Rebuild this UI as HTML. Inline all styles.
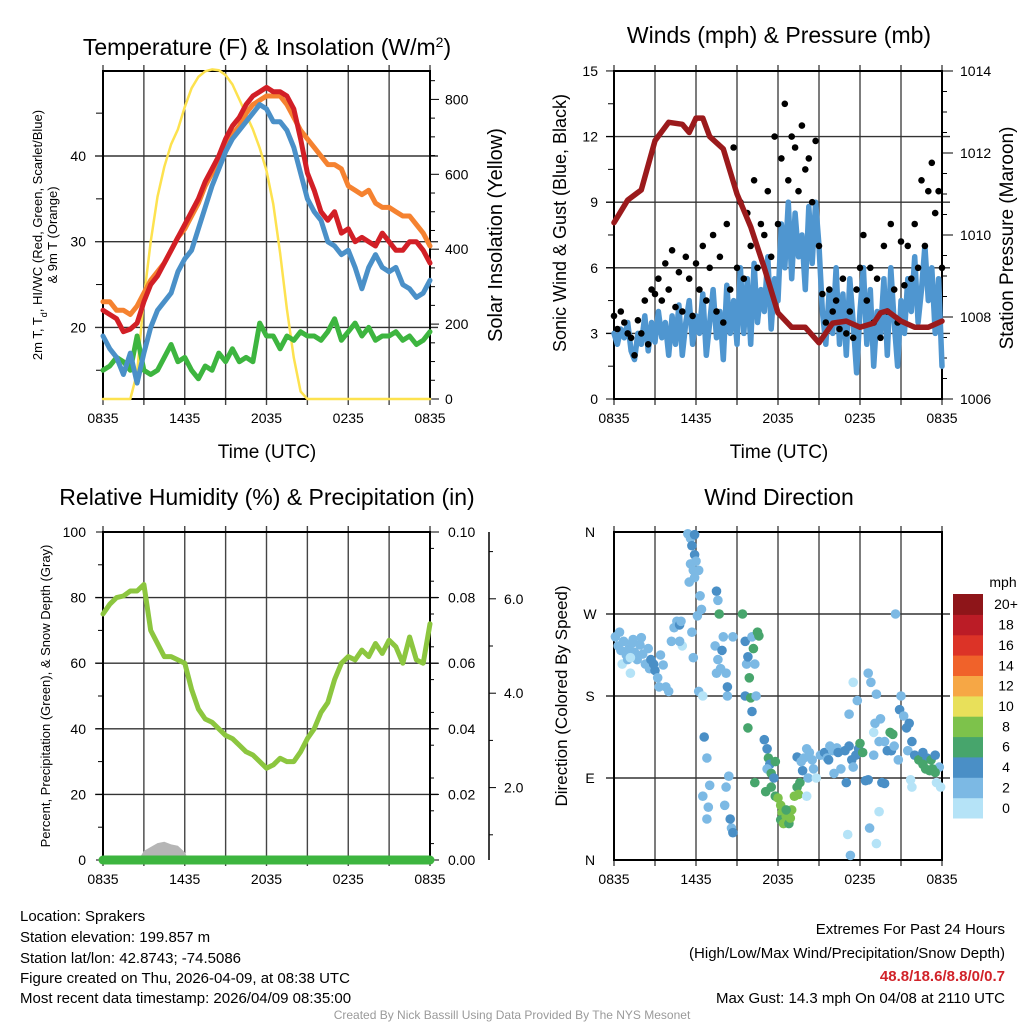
<!DOCTYPE html>
<html><head><meta charset="utf-8">
<style>
html,body{margin:0;padding:0;background:#fff;}
svg{display:block;font-family:"Liberation Sans",Arial,sans-serif;}
</style></head>
<body>
<svg id="chart" width="1024" height="1024" viewBox="0 0 1024 1024" xmlns="http://www.w3.org/2000/svg">
<rect x="0" y="0" width="1024" height="1024" fill="#fff"/>
<text x="267" y="55" font-size="23" text-anchor="middle">Temperature (F) &amp; Insolation (W/m<tspan baseline-shift="super" font-size="14">2</tspan>)</text>
<text x="779" y="43" font-size="23" text-anchor="middle">Winds (mph) &amp; Pressure (mb)</text>
<text x="267" y="505" font-size="23" text-anchor="middle">Relative Humidity (%) &amp; Precipitation (in)</text>
<text x="779" y="505" font-size="23" text-anchor="middle">Wind Direction</text>

<text transform="translate(42,235) rotate(-90)" font-size="13" text-anchor="middle">2m T, T<tspan baseline-shift="sub" font-size="9">d</tspan>, HI/WC (Red, Green, Scarlet/Blue)</text>
<text transform="translate(57,235) rotate(-90)" font-size="13" text-anchor="middle">&amp; 9m T (Orange)</text>
<text transform="translate(502,235) rotate(-90)" font-size="20" text-anchor="middle">Solar Insolation (Yellow)</text>
<text x="267" y="458" font-size="19" text-anchor="middle">Time (UTC)</text>
<text transform="translate(566,223) rotate(-90)" font-size="18" text-anchor="middle">Sonic Wind &amp; Gust (Blue, Black)</text>
<text transform="translate(1013,238) rotate(-90)" font-size="19" text-anchor="middle">Station Pressure (Maroon)</text>
<text x="779" y="458" font-size="19" text-anchor="middle">Time (UTC)</text>
<text transform="translate(50,696) rotate(-90)" font-size="13" text-anchor="middle">Percent, Precipitation (Green), &amp; Snow Depth (Gray)</text>
<text transform="translate(567,696) rotate(-90)" font-size="17" text-anchor="middle">Direction (Colored By Speed)</text>

<text x="1003" y="587" font-size="14" text-anchor="middle">mph</text>

<g font-size="15">
<text x="20" y="921">Location: Sprakers</text>
<text x="20" y="942">Station elevation: 199.857 m</text>
<text x="20" y="963">Station lat/lon: 42.8743; -74.5086</text>
<text x="20" y="983">Figure created on Thu, 2026-04-09, at 08:38 UTC</text>
<text x="20" y="1003">Most recent data timestamp: 2026/04/09 08:35:00</text>
</g>
<g font-size="15" text-anchor="end">
<text x="1005" y="934">Extremes For Past 24 Hours</text>
<text x="1005" y="958">(High/Low/Max Wind/Precipitation/Snow Depth)</text>
<text x="1005" y="981" fill="#d1232a" font-weight="bold">48.8/18.6/8.8/0/0.7</text>
<text x="1005" y="1003">Max Gust: 14.3 mph On 04/08 at 2110 UTC</text>
</g>
<text x="512" y="1019" font-size="12" fill="#9a9a9a" text-anchor="middle">Created By Nick Bassill Using Data Provided By The NYS Mesonet</text>
</svg>
<script>
// ---------- data ----------
const timeLabels = ["0835","1435","2035","0235","0835"];
const tempHours = [0,0.5,1,1.5,2,2.5,3,3.5,4,4.5,5,5.5,6,6.5,7,7.5,8,8.5,9,9.5,10,10.5,11,11.5,12,12.5,13,13.5,14,14.5,15,15.5,16,16.5,17,17.5,18,18.5,19,19.5,20,20.5,21,21.5,22,22.5,23,23.5,24];
const tempRed = [22,21.5,21,19.5,19.8,20.5,23,25,26,27.5,29,30.5,32,33.5,35,37,38.5,40,42,43.5,44.5,46,47,47.5,48,47.5,47.5,47,45.5,42,38,36,33.5,32.5,33.5,31,31.5,30,30.5,30,29.5,31,30,29,29,30,30,29,27.5];
const tempBlue = [19,17.5,16.5,14.5,17,13.5,17,20,22,23,24,26.5,28,29,31.5,34,36.5,38.5,40.5,42,43,44,45,46,45.5,44,44,43,41,38,35,33.5,32.5,30,29.5,28.5,29,27,24.5,27,28.5,27,26.5,27,25,24.5,23.5,24,25.5];
const tempOrange = [23,23,22,22,21.5,22.5,24,25.5,26.5,27.5,29,30.5,31.5,33,34.5,36.5,38,39.5,41,42.5,43.5,45,46,46.5,47,47,47,46,44.5,43,42,41,40,39,39,38.5,36.5,36,35.5,36,34.5,34,34,33.5,33,33,32,31,29.5];
const tempGreen = [15,15.5,16.5,16,15,19,15,14.5,15,16.5,18,16,16.5,15,14,15.5,15,17,16,17.5,16,16.5,16,20.5,19,19,17.5,19,18.5,19.5,19,19,18.5,19.5,21,18.5,19.5,20.5,19,20,18.5,19,19,19.5,18.5,19,18,18.5,19.5];
const solar = [0,0,0,0,0,70,270,420,540,620,680,720,780,830,860,875,880,878,865,840,800,760,720,670,610,520,390,240,110,20,0,0,0,0,0,0,0,0,0,0,0,0,0,0,0,0,0,0,0];
const tempTicks = [20,30,40];
const solarTicks = [0,200,400,600,800];

const windHours = [];
for (let i = 0; i <= 96; i++) windHours.push(i/4);
const windSpeed = [3,2.5,3.2,2.8,3.5,2.2,1.8,3,2.5,3.8,2.2,3.5,2.6,
 4,2.8,3.5,2,3.8,2.5,4.3,2,3.5,4.5,2.5,3.8,
 3,4.8,2,3.5,5,2.8,4,1.8,5.2,3,4.5,2.5,
 6,3,5.5,2.5,6.2,3.5,5,4,6.5,3.2,5.5,4.5,
 8,6,9,5.5,8.5,6.5,7.5,5,8.8,6.2,9,7,
 4,2.5,5,3,6,2.5,4.8,2,5.5,3.5,1.2,4,
 6,2.5,5,1.5,4,3,5.5,2,6,3.5,1.5,4.5,
 3,5.5,4,6.5,3.5,5,7,4.5,6,3,5.5,1.5];
const windGust = [3.8,3.2,4,3.5,3,2.8,2,3.6,3,4.5,2.5,5,4.8,
 5.5,4.5,6.2,5,6.8,4.2,5.8,4,6.5,5.5,3.8,6.2,
 5,7,4.5,6,7.5,4,6.5,3.5,8,5,11.5,6,
 9,5.5,8.5,7,10,6,8,7.5,9.5,6.5,12,8,
 11,13.5,10,12,11.5,9.5,12.5,10.5,11,9,11.8,7,
 4.8,3.5,5,4,4.5,3.2,5.5,3,4,2.8,5,6,
 7.5,4.5,6,3.5,5.5,2.8,7,4,8,5,3.5,7.2,
 5.2,7,5.5,8,6,10,7,9.5,10.8,8.5,9.5,6];
const pressHours = [0,1,2,3,4,5,5.5,6,6.5,7,8,9,10,11,12,13,14,15,16,17,18,19,19.5,20,21,22,23,24];
const pressure = [1010.3,1010.85,1011.1,1012.3,1012.75,1012.7,1012.5,1012.85,1012.85,1012.4,1012.1,1011.0,1010.2,1009.2,1008.1,1007.75,1007.75,1007.37,1007.85,1007.9,1007.75,1007.85,1008.1,1008.15,1007.9,1007.75,1007.75,1007.9];
const windTicks = [0,3,6,9,12,15];
const pressTicks = [1006,1008,1010,1012,1014];

const rhHours = tempHours;
const rh = [75,78,80,80.5,82,82,84,70,66,62,62,61,60,52,46,43,42,40,38,37,35,33,32,30,28,29,31,30,30,33,37,40,45,48,55,60,62,61,64,62,66,63,67,65,60,68,61,60,72];
const snowHours = [0,2.6,3,3.5,4,4.5,5,5.5,6,6.3,24];
const snowDepth = [0,0,0.35,0.5,0.65,0.7,0.6,0.55,0.3,0,0];
const rhTicks = [0,20,40,60,80,100];
const precipTicks = ["0.00","0.02","0.04","0.06","0.08","0.10"];
const snowTicks = ["2.0","4.0","6.0"];

const dirLabels = ["N","E","S","W","N"];
const dirPts = [[0.1,245,3],[0.3,235,3],[0.5,230,3],[0.7,240,3],[0.9,225,3],[1.1,232,3],[1.3,238,3],[1.5,228,3],[1.7,220,3],[1.9,236,3],[2.1,226,3],[2.3,215,3],[0.6,215,1],[1.0,220,3],[1.4,242,3],[2.0,244,3],[2.5,232,3],[2.6,210,3],[0.4,250,3],[1.2,222,1.5],[1.2,205,1.5],
[2.7,220,4.5],[2.9,215,4.5],[3.0,208,4.5],[3.2,200,3],[3.4,225,3],[3.6,214,3],[3.8,190,3],[4.0,185,3],[3.3,190,3],[4.2,240,3],[4.4,255,3],[4.6,262,3],[4.8,258,4.5],[4.9,262,3],[5.0,235,1.5],[4.8,240,3],
[5.4,358,3],[5.6,353,3],[5.9,357,4.5],[5.7,345,4.5],[5.9,335,4.5],[5.6,325,3],[5.8,318,3],[6.0,328,3],[5.5,305,3],[5.9,310,3],[6.2,318,3],[5.7,250,3],[5.8,222,3],[6.3,290,3],[6.1,268,3],
[6.4,275,3],[6.2,185,3],[6.5,180,1.5],[6.6,135,4.5],[6.8,112,3],[6.5,70,3],[6.8,45,3],[7.0,82,3],[6.9,58,3],[7.5,295,4.5],[7.6,285,3],[7.7,270,6.5],[7.4,235,3],[7.6,220,3],[7.9,230,4.5],[7.8,210,3],[7.5,205,3],[8.0,245,3],[8.3,180,3],[8.3,190,4.5],[8.2,205,3],[8.7,245,3],[8.2,80,3],[8.4,92,3],[8.1,60,3],[8.6,35,3],[8.7,30,4.5],[8.5,45,4.5],
[9.4,270,6.5],[9.6,240,4.5],[9.7,215,3],[9.8,223,4.5],[9.9,200,6.5],[9.6,180,4.5],[10.1,245,3],[10.2,232,6.5],[10.3,215,3],[10.0,178,6.5],[10.1,163,4.5],[10.4,180,3],[10.5,250,6.5],[10.6,246,6.5],[9.8,145,6.5],[10.3,85,6.5],
[11.0,132,4.5],[11.2,122,4.5],[11.3,112,6.5],[11.4,105,4.5],[11.2,100,3],[11.5,95,6.5],[11.8,108,6.5],[11.7,90,4.5],[11.5,80,6.5],[11.1,75,6.5],[11.8,70,6.5],[12.0,68,9],[12.2,60,9],[12.3,52,9],[12.2,44,6.5],[12.4,40,9],[12.6,48,9],[12.8,40,6.5],[12.9,46,9],[13.0,55,9],[13.2,70,9],[13.4,80,6.5],[13.6,85,6.5],[13.8,98,4.5],[13.5,72,9],[12.6,55,6.5],
[13.4,113,4.5],[13.7,108,3],[13.9,112,3],[14.1,122,3],[14.3,118,3],[14.5,110,3],[14.6,100,3],[14.2,90,3],[14.8,90,1.5],[14.1,70,1.5],[15.1,115,3],[15.4,118,4.5],[15.6,112,3],[15.8,125,3],[16.0,120,3],[16.3,123,3],[16.4,118,4.5],[15.7,110,4.5],[16.1,95,3],[16.6,100,3],[16.9,120,4.5],[17.0,85,4.5],[17.2,125,4.5],[17.4,110,4.5],[17.7,115,4.5],[17.5,102,3],[17.9,122,4.5],[18.0,128,6.5],[18.2,118,6.5],[17.2,160,3],[17.5,195,1.5],[17.8,175,3],[17.1,28,1.5],[17.3,5,3],[18.4,87,4.5],[18.6,88,4.5],
[18.6,205,3],[18.8,195,3],[19.2,182,3],[19.1,150,3],[19.5,155,3],[19.8,130,3],[20.0,120,4.5],[19.4,130,3],[19.0,115,3],[20.3,120,4.5],[20.5,125,3],[20.8,110,3],[20.9,165,4.5],[21.0,180,3],[21.2,158,3],[21.4,145,4.5],[21.6,150,4.5],[21.8,130,4.5],[21.5,120,3],[22.0,115,4.5],[22.3,110,6.5],[22.6,118,4.5],[22.9,112,4.5],[23.2,110,6.5],[23.5,115,4.5],[23.8,102,3],[23.6,85,1.5],[23.9,80,1.5],[22.6,105,6.5],[22.8,100,6.5],[23.1,98,6.5],[23.3,100,6.5],[23.5,96,6.5],[20.6,270,3],[21.8,80,1.5],[21.7,88,1.5],[19.4,53,1.5],[19.2,18,1.5],[19.6,85,4.5],[19.8,84,4.5],[20.2,140,6.5],[20.4,138,6.5],[18.7,35,3],[19.0,140,1.5]];
const speedBinLabels = ["0","2","4","6","8","10","12","14","16","18","20+"];
const speedBinColors = ["#b5e3f7","#7cb9e4","#4a8fc6","#47a56c","#7dc24b","#e8e05a","#f6a745","#f0622a","#dc3327","#bb1c26","#8e1519"];

// ---------- scales ----------
const L = {x0:103, x1:430}, R = {x0:614, x1:942};
const TOP = {y0:71, y1:399}, BOT = {y0:532, y1:860};
const xL = h => L.x0 + h*(L.x1-L.x0)/24;
const xR = h => R.x0 + h*(R.x1-R.x0)/24;
const yTemp = v => 156 - (v-40)*8.57;
const ySolar = v => 399 - v*0.3745;
const yWind = v => 399 - v*21.87;
const yPress = v => 399 - (v-1006)*41;
const yRH = v => 860 - v*3.28;
const yPrecip = v => 860 - v*3280;
const ySnow = v => 882 - v*47.2;
const yDir = d => 860 - d*328/360;

const svg = document.getElementById('chart');
const NS = 'http://www.w3.org/2000/svg';
function mk(tag, attrs, parent){
  const e = document.createElementNS(NS, tag);
  for (const k in attrs) e.setAttribute(k, attrs[k]);
  (parent||svg).appendChild(e);
  return e;
}
function pathFrom(xs, ys, xf, yf){
  return xs.map((h,i)=>(i?'L':'M')+xf(h).toFixed(1)+','+yf(ys[i]).toFixed(1)).join('');
}

// ---------- frames & grids ----------
function panel(name, P, V, hGrid){
  const g = mk('g', {});
  
  
  for (let i=0;i<=8;i++){
    const x = P.x0 + i*(P.x1-P.x0)/8;
    const ln = mk('line', {x1:x, x2:x, y1:V.y0-6, y2:V.y1+6, stroke:'#444', 'stroke-width':1.4}, g);
    
    
  }
  hGrid.forEach(y=>{
    const ln = mk('line', {x1:P.x0-8, x2:P.x1+8, y1:y, y2:y, stroke:'#333', 'stroke-width':1.4}, g);
    
    
  });
  const fr = mk('rect', {x:P.x0, y:V.y0, width:P.x1-P.x0, height:V.y1-V.y0, fill:'none', stroke:'#000', 'stroke-width':2});
  
  
  timeLabels.forEach((t,i)=>{
    const tx = mk('text', {x:P.x0+i*(P.x1-P.x0)/4, y:V.y1+24, 'font-size':14, 'text-anchor':'middle'});
    tx.textContent = t;
    
    
  });
}
panel('temperature', L, TOP, tempTicks.map(yTemp));
panel('wind', R, TOP, windTicks.slice(1,5).map(yWind));
panel('humidity', L, BOT, rhTicks.slice(1,5).map(yRH));
panel('direction', R, BOT, [1,2,3].map(i=>yDir(i*90)));

function tickLabel(name, x, y, txt, anchor){
  const t = mk('text', {x:x, y:y+5, 'font-size':14, 'text-anchor':anchor});
  t.textContent = txt;
  
  
}
function minor(x1, x2, y){
  const m = mk('line', {x1:x1, x2:x2, y1:y, y2:y, stroke:'#000', 'stroke-width':1});
  
  
}
tempTicks.forEach(v=>tickLabel('temp-y-tick-label', 86, yTemp(v), String(v), 'end'));
[15,25,35,45].forEach(v=>minor(96,103,yTemp(v)));
solarTicks.forEach(v=>{ tickLabel('solar-y-tick-label', 445, ySolar(v), String(v), 'start'); minor(430,439,ySolar(v)); });
for (let v=50; v<=850; v+=50) if (v%200) minor(430,435,ySolar(v));
windTicks.forEach(v=>{ tickLabel('wind-y-tick-label', 598, yWind(v), String(v), 'end'); minor(606,614,yWind(v)); });
for (let v=1.5; v<15; v+=3) minor(608,614,yWind(v));
pressTicks.forEach(v=>{ tickLabel('pressure-y-tick-label', 960, yPress(v), String(v), 'start'); minor(942,953,yPress(v)); });
for (let v=1006.5; v<1014; v+=0.5) if (v%2) minor(942,947,yPress(v));
rhTicks.forEach(v=>{ tickLabel('rh-y-tick-label', 86, yRH(v), String(v), 'end'); minor(96,103,yRH(v)); });
for (let v=10; v<100; v+=20) minor(98,103,yRH(v));
precipTicks.forEach(v=>{ tickLabel('precip-y-tick-label', 448, yPrecip(+v), v, 'start'); minor(430,439,yPrecip(+v)); });
for (let v=0.005; v<0.1; v+=0.01) minor(430,434,yPrecip(v));
const snowAxis = mk('line', {x1:489, x2:489, y1:532, y2:860, stroke:'#000', 'stroke-width':1.5});


snowTicks.forEach(v=>{ tickLabel('snow-y-tick-label', 504, ySnow(+v), v, 'start'); minor(489,496,ySnow(+v)); });
for (let v=1; v<=7; v+=2) minor(489,493,ySnow(v));
dirLabels.forEach((t,i)=>{ tickLabel('direction-y-tick-label', 590, yDir(i*90), t, 'middle'); });

// ---------- temperature series ----------
function line(d, color, w, name){
  const p = mk('path', {d:d, fill:'none', stroke:color, 'stroke-width':w, 'stroke-linejoin':'round', 'stroke-linecap':'round'});
  
  
  return p;
}
line(pathFrom(tempHours, solar, xL, ySolar), '#fde24f', 2.5, 'solar-insolation-line');
line(pathFrom(tempHours, tempGreen, xL, yTemp), '#3db53f', 5, 'dewpoint-line');
line(pathFrom(tempHours, tempOrange, xL, yTemp), '#f58230', 5, 'temp-9m-line');
line(pathFrom(tempHours, tempRed, xL, yTemp), '#d21f26', 5, 'temp-2m-line');
line(pathFrom(tempHours, tempBlue, xL, yTemp), '#4a90c8', 5, 'windchill-line');

// ---------- wind series ----------
line(pathFrom(windHours, windSpeed, xR, yWind), '#4f96d0', 5.5, 'sonic-wind-line');
windGust.forEach((g,i)=>{
  const c = mk('circle', {cx:xR(windHours[i]).toFixed(1), cy:yWind(g).toFixed(1), r:3.3, fill:'#000'});
  
  
});
line(pathFrom(pressHours, pressure, xR, yPress), '#9b1a1c', 5.5, 'pressure-line');

// ---------- humidity series ----------
const snowArea = mk('path', {d:pathFrom(snowHours, snowDepth, xL, v=>860 - v*26)+'Z', fill:'#b5b5b5'});


line(pathFrom(rhHours, rh, xL, yRH), '#8cc63f', 5, 'relative-humidity-line');
line('M'+xL(0)+','+yPrecip(0)+'L'+xL(24)+','+yPrecip(0), '#3db53f', 9, 'precipitation-line');

// ---------- wind direction ----------
function speedColor(s){ const i = Math.min(10, Math.floor(s/2)); return speedBinColors[i]; }
dirPts.forEach(p=>{
  const c = mk('circle', {cx:xR(p[0]).toFixed(1), cy:yDir(p[1]).toFixed(1), r:4.8, fill:speedColor(p[2])});
  
  
});
const cbTop = 594, cbH = 224/11;
speedBinColors.forEach((col,i)=>{
  const y = cbTop + (10-i)*cbH;
  const r = mk('rect', {x:953, y:y.toFixed(1), width:30, height:(cbH+0.5).toFixed(1), fill:col});
  
  
  const t = mk('text', {x:1006, y:(y+cbH/2+5).toFixed(1), 'font-size':14, 'text-anchor':'middle'});
  t.textContent = speedBinLabels[i];
  
  
});
</script>
</body></html>
